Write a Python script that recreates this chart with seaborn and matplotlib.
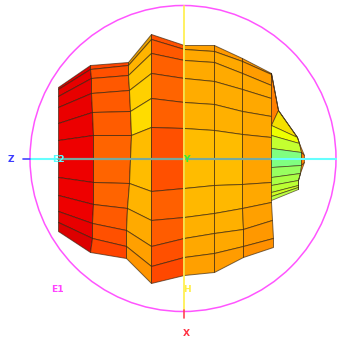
#Import libraries
import numpy as np
import seaborn as sns
import matplotlib
matplotlib.use('Agg')
import matplotlib.pyplot as plt
from matplotlib.colors import to_rgb
from matplotlib.patches import Circle

#Mesh columns, x per ring (top to bottom)
col_x = [
    [57.5, 57.5, 57.5, 57.5, 57.5, 57.5, 57.5, 57.5, 57.5, 57.5, 57.5],
    [89.5, 90, 90.5, 91, 92, 92.7, 93, 92.7, 92, 91.5, 90],
    [128, 128, 128.3, 128.5, 130, 131, 128.5, 127, 126, 126, 126],
    [150.5, 150.5, 150.5, 150.5, 150.5, 150.5, 150.5, 150.5, 150.5, 150.5, 150.5],
    [183.5, 183.5, 183.5, 183.5, 183.5, 183.5, 183.5, 183.5, 183.5, 183.5, 183.5],
    [214, 214, 214, 214, 214, 214, 214, 214, 214, 214, 214],
    [242, 242, 242, 241.5, 241.5, 242, 242, 242, 242.5, 242.5, 242.5],
    [270.5, 270.5, 270.5, 270.5, 270.5, 271, 271, 271, 272, 272.5, 273],
]
#Mesh columns, y per ring
col_y = [
    [87, 89, 96, 107, 123, 140, 177, 195, 211, 222, 231],
    [65, 69, 78, 93, 112, 135, 182, 204, 223, 238, 252],
    [62, 65, 75, 90, 111, 135, 183, 208, 230, 246, 258],
    [34, 39, 53, 73, 98, 127, 191, 220, 246, 266, 283],
    [45, 49, 60, 78, 102, 128, 188, 217, 238, 257, 275],
    [45, 51, 62, 81, 104, 130, 185, 213, 233, 253, 272],
    [58, 61, 73, 89, 111, 134, 184, 208, 229, 246, 257],
    [73, 74, 85, 98, 116, 137, 182, 202, 220, 238, 247],
]
#Cell colours, one list per column strip
strip_colors = [
    ['#E00000', '#E60000', '#E80000', '#EA0000', '#EC0000', '#EE0000', '#EE0000', '#EE0000', '#E80000', '#DC0000'],
    ['#FF4400', '#FF5000', '#FF5800', '#FF5A00', '#FF5C00', '#FF6400', '#FF6400', '#FF5A00', '#FF5000', '#FF4400'],
    ['#E8A000', '#FFB400', '#FFC400', '#FFD000', '#FFDC00', '#FFBC00', '#FFB400', '#FFAA00', '#FFA000', '#FF9500'],
    ['#FF5000', '#FF5800', '#FF6000', '#FF6400', '#FF6000', '#FF5000', '#FF6000', '#FF5C00', '#FF5000', '#FF4800'],
    ['#FFA000', '#FFA800', '#FFAA00', '#FFAC00', '#FFB000', '#FFBC00', '#FFB800', '#FFB000', '#FFA800', '#FFA000'],
    ['#FF9800', '#FFA800', '#FFAA00', '#FFAC00', '#FFB000', '#FFBC00', '#FFB800', '#FFB000', '#FFA800', '#FF9C00'],
    ['#FF9800', '#FF9C00', '#FFA800', '#FFA800', '#FFA800', '#FFA400', '#FFA800', '#FFA000', '#FF9800', '#FF9000'],
]

#Nose cone at the right end
nose_left_y = [73, 125, 125, 135, 148, 167, 177, 185, 192, 196, 200]
nose_mid_x = [271, 278, 297, 299, 301, 301, 300, 298, 298, 298, 298]
nose_mid_y = [73, 110, 137, 143, 152, 165, 173, 180, 185, 187, 189]
nose_tip_x = [271, 278, 297, 299, 304, 304, 300, 298, 298, 298, 298]
nose_tip_y = [73, 110, 137, 143, 155, 162, 173, 180, 185, 187, 189]
nose_colors = ['#FF8000', '#F5E000', '#EEFF00', '#C4FF30', '#80FF80', '#98FF60', '#AAFF44', '#BBFF33', '#CCFF22', '#BBFF44']
nose_tip_colors = ['#FF8000', '#F5E000', '#EEFF00', '#FF8800', '#FF8000', '#FF8800', '#AAFF44', '#BBFF33', '#CCFF22', '#BBFF44']

#Axis lines and labels
cyan_x = [30, 337]
shaded_x = [57.5, 271]
blue_x = [23, 30]
axis_y = [159, 159]
yellow_y = [6, 310]
red_y = [310, 318]
axis_x = [184, 184]
label_text = ['Z', 'E2', 'Y', 'E1', 'H', 'X']
label_x = [11, 58, 186, 57, 187, 186]
label_y = [159, 159, 159, 290, 290, 334]
label_color = ['#3C3CFF', '#55FFFF', '#33EE33', '#FF44FF', '#FFEE44', '#FF3344']

sns.set_style('white')
plt.rcParams['font.family'] = ['DejaVu Sans']

fig = plt.figure(figsize=(3.37, 3.41), dpi=100)
ax = fig.add_axes([0, 0, 1, 1])

#Body of the mesh
edge = (0.2, 0.13, 0.05, 0.65)
rgb = np.array([[to_rgb(c) for c in strip] for strip in strip_colors]).transpose(1, 0, 2)
ax.pcolormesh(np.array(col_x).T, np.array(col_y).T, rgb, edgecolors=edge, linewidth=0.7,
              antialiased=True, zorder=1)

#Nose cone
nose_x = np.column_stack([[270.5] * 11, nose_mid_x, nose_tip_x])
nose_y = np.column_stack([nose_left_y, nose_mid_y, nose_tip_y])
nose_rgb = np.array([[to_rgb(a), to_rgb(b)] for a, b in zip(nose_colors, nose_tip_colors)])
ax.pcolormesh(nose_x, nose_y, nose_rgb, edgecolors=edge, linewidth=0.6, antialiased=True, zorder=1)

ax.add_patch(Circle((183, 158.5), 153, fill=False, edgecolor='#FF55FF', linewidth=1.1, zorder=2))

sns.lineplot(x=cyan_x, y=axis_y, color='#66FFFF', linewidth=1.5, ax=ax, zorder=3)
sns.lineplot(x=shaded_x, y=axis_y, color='#78A89C', linewidth=1.5, ax=ax, zorder=3)
sns.lineplot(x=blue_x, y=axis_y, color='#4444FF', linewidth=1.2, ax=ax, zorder=3)
sns.lineplot(x=axis_x, y=yellow_y, orient='y', color='#FFF050', alpha=0.9, linewidth=1.4, ax=ax, zorder=3)
sns.lineplot(x=axis_x, y=red_y, orient='y', color='#FF4455', linewidth=1.2, ax=ax, zorder=3)

for t, x, y, c in zip(label_text, label_x, label_y, label_color):
    ax.text(x, y, t, color=c, fontsize=6.6, fontweight='bold', ha='center', va='center', zorder=4)

ax.set_xlim(0, 337)
ax.set_ylim(341, 0)
ax.axis('off')
fig.savefig('out.png', dpi=100)
